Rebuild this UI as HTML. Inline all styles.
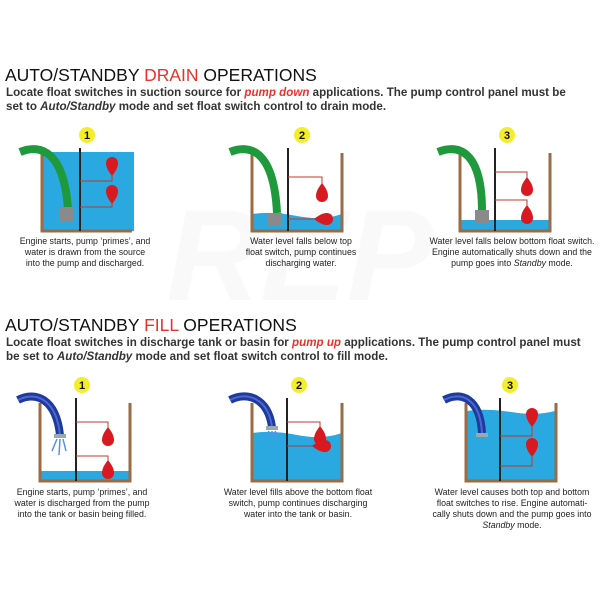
<!DOCTYPE html>
<html><head><meta charset="utf-8"><style>
body{margin:0;background:#fff;width:600px;height:600px;overflow:hidden;font-family:"Liberation Sans",sans-serif}
svg{display:block}
.t{font-size:17.5px;fill:#111}
.s{font-size:11.6px;font-weight:bold;fill:#333}
.c{font-size:8.8px;fill:#222;text-anchor:middle}
.n{font-size:11px;font-weight:bold;text-anchor:middle;fill:#111}
</style></head><body>
<svg width="600" height="600" viewBox="0 0 600 600">
<defs>
<path id="drop" d="M0,0 C-4,5 -6,9 -6,13 A6,6 0 0 0 6,13 C6,9 4,5 0,0Z" fill="#d8191f"/>
<path id="hdrop" d="M0,0 C5,-4 9,-6 13,-6 A6,6 0 0 1 13,6 C9,6 5,4 0,0Z" fill="#d8191f"/>
<g id="walls"><path d="M0,0 V78 H90 V0" fill="none" stroke="#9b6b43" stroke-width="3"/></g>
</defs>
<text x="300" y="300" font-size="130" font-weight="bold" font-style="italic" fill="#f9f9f9" text-anchor="middle">REP</text>

<text x="5" y="81" class="t">AUTO/STANDBY <tspan fill="#e8332a">DRAIN</tspan> OPERATIONS</text>
<text x="6" y="96" class="s">Locate float switches in suction source for <tspan fill="#e8332a" font-style="italic">pump down</tspan> applications. The pump control panel must be</text>
<text x="6" y="110" class="s">set to <tspan font-style="italic">Auto/Standby</tspan> mode and set float switch control to drain mode.</text>

<text x="5" y="331" class="t">AUTO/STANDBY <tspan fill="#e8332a">FILL</tspan> OPERATIONS</text>
<text x="6" y="346" class="s">Locate float switches in discharge tank or basin for <tspan fill="#e8332a" font-style="italic">pump up</tspan> applications. The pump control panel must</text>
<text x="6" y="360" class="s">be set to <tspan font-style="italic">Auto/Standby</tspan> mode and set float switch control to fill mode.</text>

<g>
<circle cx="87" cy="135" r="8" fill="#f4ee2a"/><text x="87" y="139" class="n">1</text>
<circle cx="302" cy="135" r="8" fill="#f4ee2a"/><text x="302" y="139" class="n">2</text>
<circle cx="507" cy="135" r="8" fill="#f4ee2a"/><text x="507" y="139" class="n">3</text>
<circle cx="82" cy="385" r="8" fill="#f4ee2a"/><text x="82" y="389" class="n">1</text>
<circle cx="299" cy="385" r="8" fill="#f4ee2a"/><text x="299" y="389" class="n">2</text>
<circle cx="510" cy="385" r="8" fill="#f4ee2a"/><text x="510" y="389" class="n">3</text>
</g>

<!-- DRAIN 1 -->
<g transform="translate(42,153)">
<rect x="0" y="-1" width="92" height="79" fill="#29a9e0"/>
<path d="M0,0 V78 H90" fill="none" stroke="#9b6b43" stroke-width="3"/>
<line x1="38" y1="-5" x2="38" y2="78" stroke="#222" stroke-width="2"/>
<path d="M38,28 H70 V14 M38,54 H70 V42" fill="none" stroke="#c0392b" stroke-width="1"/>
<use href="#drop" x="70" y="5" transform="rotate(180 70 14)"/>
<use href="#drop" x="70" y="33" transform="rotate(180 70 42)"/>
<path d="M-22,-1 C0,-10 22,0 26,56" fill="none" stroke="#1e9a3c" stroke-width="8"/>
<rect x="17" y="54" width="14" height="14" fill="#8a8a8a"/>
</g>
<!-- DRAIN 2 -->
<g transform="translate(252,153)">
<path d="M0,61 Q20,58 45,63 T90,61 V78 H0Z" fill="#29a9e0"/>
<use href="#walls"/>
<line x1="36" y1="-5" x2="36" y2="78" stroke="#222" stroke-width="2"/>
<path d="M36,24 H70 V34 M36,66 H68" fill="none" stroke="#c0392b" stroke-width="1"/>
<use href="#drop" x="70" y="30"/>
<use href="#hdrop" x="62" y="66"/>
<path d="M-22,-1 C0,-10 22,0 25,60" fill="none" stroke="#1e9a3c" stroke-width="8"/>
<rect x="16" y="60" width="14" height="12" fill="#8a8a8a"/>
</g>
<!-- DRAIN 3 -->
<g transform="translate(460,153)">
<rect x="0" y="67" width="90" height="11" fill="#29a9e0"/>
<use href="#walls"/>
<line x1="35" y1="-5" x2="35" y2="78" stroke="#222" stroke-width="2"/>
<path d="M35,19 H67 V28 M35,47 H67 V56" fill="none" stroke="#c0392b" stroke-width="1"/>
<use href="#drop" x="67" y="24"/>
<use href="#drop" x="67" y="52"/>
<path d="M-22,-1 C0,-10 22,0 22,58" fill="none" stroke="#1e9a3c" stroke-width="8"/>
<rect x="15" y="57" width="14" height="14" fill="#8a8a8a"/>
</g>

<!-- FILL 1 -->
<g transform="translate(40,403)">
<rect x="0" y="68" width="90" height="10" fill="#29a9e0"/>
<use href="#walls"/>
<line x1="36" y1="-5" x2="36" y2="78" stroke="#222" stroke-width="2"/>
<path d="M36,19 H68 V28 M36,53 H68 V62" fill="none" stroke="#c0392b" stroke-width="1"/>
<use href="#drop" x="68" y="24"/>
<use href="#drop" x="68" y="57"/>
<path d="M-22,-3 C-5,-12 16,-5 20,32" fill="none" stroke="#1d3a9c" stroke-width="8"/>
<path d="M-22,-3 C-5,-12 16,-5 20,32" fill="none" stroke="#4a68d0" stroke-width="2"/>
<rect x="14" y="31" width="12" height="4" fill="#9aa"/>
<path d="M17,36 L12,48 M20,36 L19,52 M23,36 L26,48" stroke="#5a8cf0" stroke-width="1.5"/>
</g>
<!-- FILL 2 -->
<g transform="translate(252,403)">
<path d="M0,30 Q20,27 45,32 T90,30 V78 H0Z" fill="#29a9e0"/>
<use href="#walls"/>
<line x1="35" y1="-5" x2="35" y2="78" stroke="#222" stroke-width="2"/>
<path d="M35,19 H68 V27 M35,43 H65" fill="none" stroke="#c0392b" stroke-width="1"/>
<use href="#drop" x="68" y="23"/>
<use href="#hdrop" x="60" y="43"/>
<path d="M-22,-3 C-5,-12 16,-5 20,24" fill="none" stroke="#1d3a9c" stroke-width="8"/>
<path d="M-22,-3 C-5,-12 16,-5 20,24" fill="none" stroke="#4a68d0" stroke-width="2"/>
<rect x="14" y="23" width="12" height="4" fill="#9aa"/>
<path d="M17,28 L13,34 M20,28 L20,35 M23,28 L26,34" stroke="#5a8cf0" stroke-width="1.5"/>
</g>
<!-- FILL 3 -->
<g transform="translate(466,403)">
<path d="M0,8 Q20,5 45,9 T89,8 V78 H0Z" fill="#29a9e0"/>
<use href="#walls"/>
<line x1="34" y1="-5" x2="34" y2="78" stroke="#222" stroke-width="2"/>
<path d="M34,33 H66 V20 M34,63 H66 V50" fill="none" stroke="#c0392b" stroke-width="1"/>
<use href="#drop" x="66" y="8" transform="rotate(180 66 16)"/>
<use href="#drop" x="66" y="38" transform="rotate(180 66 46)"/>
<path d="M-22,-3 C-5,-12 14,-5 16,30" fill="none" stroke="#1d3a9c" stroke-width="8"/>
<path d="M-22,-3 C-5,-12 14,-5 16,30" fill="none" stroke="#4a68d0" stroke-width="2"/>
<rect x="10" y="30" width="12" height="4" fill="#9aa"/>
</g>

<text class="c"><tspan x="85" y="244">Engine starts, pump ‘primes’, and</tspan><tspan x="85" y="255">water is drawn from the source</tspan><tspan x="85" y="266">into the pump and discharged.</tspan></text>
<text class="c"><tspan x="301" y="244">Water level falls below top</tspan><tspan x="301" y="255">float switch, pump continues</tspan><tspan x="301" y="266">discharging water.</tspan></text>
<text class="c"><tspan x="512" y="244">Water level falls below bottom float switch.</tspan><tspan x="512" y="255">Engine automatically shuts down and the</tspan><tspan x="512" y="266">pump goes into <tspan font-style="italic">Standby</tspan> mode.</tspan></text>
<text class="c"><tspan x="82" y="495">Engine starts, pump ‘primes’, and</tspan><tspan x="82" y="506">water is discharged from the pump</tspan><tspan x="82" y="517">into the tank or basin being filled.</tspan></text>
<text class="c"><tspan x="298" y="495">Water level fills above the bottom float</tspan><tspan x="298" y="506">switch, pump continues discharging</tspan><tspan x="298" y="517">water into the tank or basin.</tspan></text>
<text class="c"><tspan x="512" y="495">Water level causes both top and bottom</tspan><tspan x="512" y="506">float switches to rise. Engine automati-</tspan><tspan x="512" y="517">cally shuts down and the pump goes into</tspan><tspan x="512" y="528" font-style="italic">Standby <tspan font-style="normal">mode.</tspan></tspan></text>
</svg>
</body></html>
